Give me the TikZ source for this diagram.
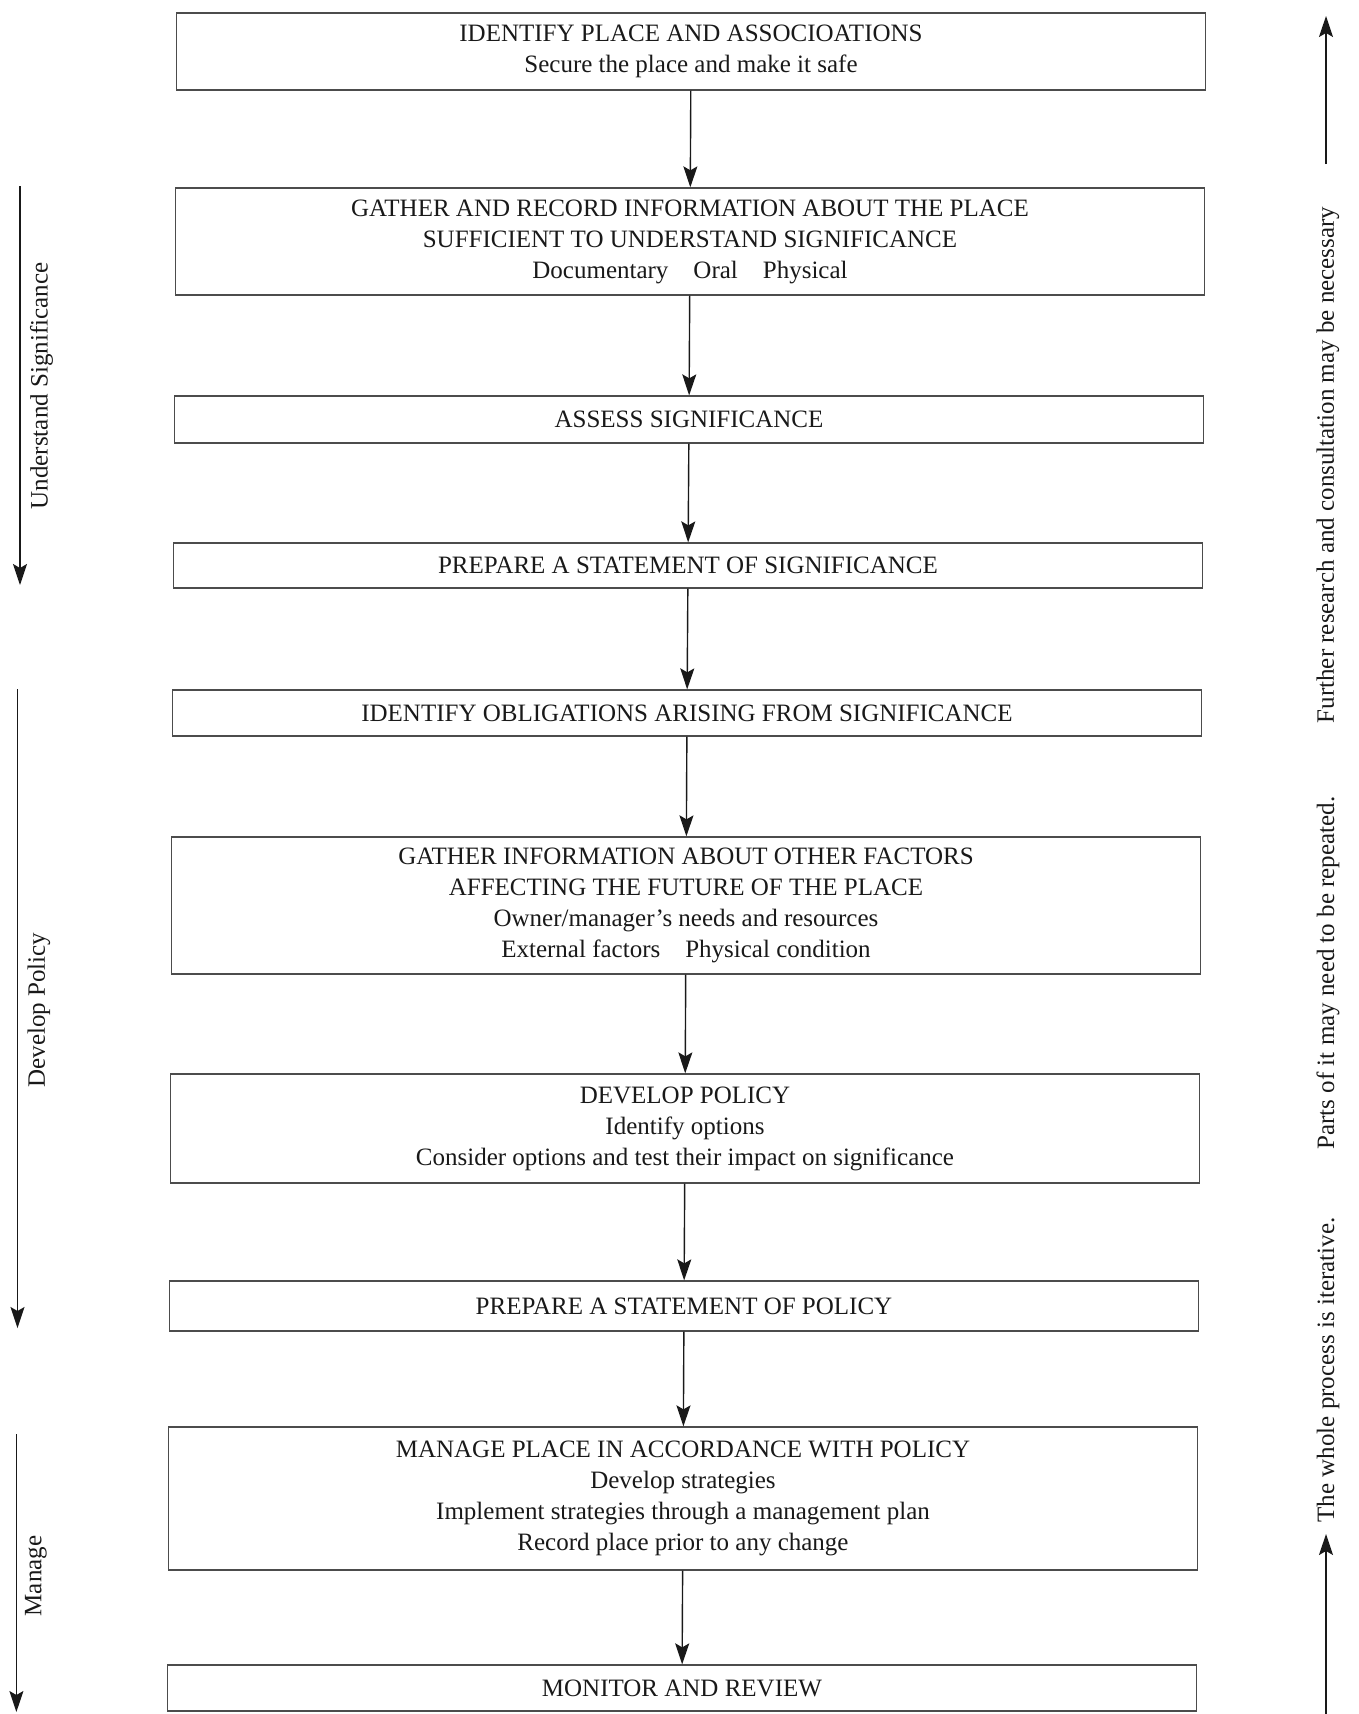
\documentclass[tikz,border=0pt]{standalone}
\usepackage{fontspec}
\setmainfont{Liberation Serif}
\usetikzlibrary{arrows.meta}

\begin{document}
\begin{tikzpicture}[x=1pt, y=-1pt]
  \tikzset{stage/.style={draw=black!70, line width=1.3pt, minimum width=1029pt, inner sep=0pt, align=center, text=black!90, font=\fontsize{25}{31}\selectfont},
           phase/.style={rotate=90, inner sep=0pt, text=black!90, font=\fontsize{25}{31}\selectfont},
           flow/.style={-{Stealth[length=21pt,width=14pt,inset=4pt]}, line width=1.4pt, black!90}}
  \useasboundingbox (0,0) rectangle (1359,1714);

  % the steps of the process
  \node[stage, minimum height=77pt]  (identify)   at (691,51.5)  {IDENTIFY PLACE AND ASSOCIOATIONS\\Secure the place and make it safe};
  \node[stage, minimum height=107pt] (gather)     at (690,241.5) {GATHER AND RECORD INFORMATION ABOUT THE PLACE\\SUFFICIENT TO UNDERSTAND SIGNIFICANCE\\Documentary\quad Oral\quad Physical};
  \node[stage, minimum height=47pt]  (assess)     at (689,419.5) {ASSESS SIGNIFICANCE};
  \node[stage, minimum height=45pt]  (statesig)   at (688,565.5) {PREPARE A STATEMENT OF SIGNIFICANCE};
  \node[stage, minimum height=46pt]  (obligation) at (687,713)   {IDENTIFY OBLIGATIONS ARISING FROM SIGNIFICANCE};
  \node[stage, minimum height=137pt] (factors)    at (686,905.5) {GATHER INFORMATION ABOUT OTHER FACTORS\\AFFECTING THE FUTURE OF THE PLACE\\Owner/manager’s needs and resources\\External factors\quad Physical condition};
  \node[stage, minimum height=109pt] (policy)     at (685,1128.5){DEVELOP POLICY\\Identify options\\Consider options and test their impact on significance};
  \node[stage, minimum height=50pt]  (statepol)   at (684,1306)  {PREPARE A STATEMENT OF POLICY};
  \node[stage, minimum height=143pt] (manage)     at (683,1498.5){MANAGE PLACE IN ACCORDANCE WITH POLICY\\Develop strategies\\Implement strategies through a management plan\\Record place prior to any change};
  \node[stage, minimum height=46pt]  (monitor)    at (682,1688)  {MONITOR AND REVIEW};

  % arrows between the steps
  \draw[flow] (identify)   -- (gather);
  \draw[flow] (gather)     -- (assess);
  \draw[flow] (assess)     -- (statesig);
  \draw[flow] (statesig)   -- (obligation);
  \draw[flow] (obligation) -- (factors);
  \draw[flow] (factors)    -- (policy);
  \draw[flow] (policy)     -- (statepol);
  \draw[flow] (statepol)   -- (manage);
  \draw[flow] (manage)     -- (monitor);

  % phases on the left
  \node[phase] (understand) at (41.5,386) {Understand Significance};
  \node[phase] (develop)    at (39,1010)  {Develop Policy};
  \node[phase] (managing)   at (36,1576)  {Manage};
  \coordinate (understand-top) at (20,186);
  \coordinate (understand-end) at (20,585);
  \coordinate (develop-top)    at (17.5,689);
  \coordinate (develop-end)    at (17.5,1328);
  \coordinate (managing-top)   at (16.4,1434);
  \coordinate (managing-end)   at (16.4,1712);
  \draw[flow] (understand-top) -- (understand-end);
  \draw[flow] (develop-top)    -- (develop-end);
  \draw[flow] (managing-top)   -- (managing-end);

  % notes on the right
  \node[phase] (further)   at (1328,465)  {Further research and consultation may be necessary};
  \node[phase] (repeated)  at (1328,973)  {Parts of it may need to be repeated.};
  \node[phase] (iterative) at (1328,1370) {The whole process is iterative.};
  \coordinate (further-top)   at (1326,16);
  \coordinate (further-start) at (1326,164);
  \coordinate (iterative-foot) at (1326,1714);
  \coordinate (iterative-tip)  at (1326,1534);
  \draw[flow] (further-start)  -- (further-top);
  \draw[flow] (iterative-foot) -- (iterative-tip);
\end{tikzpicture}
\end{document}
